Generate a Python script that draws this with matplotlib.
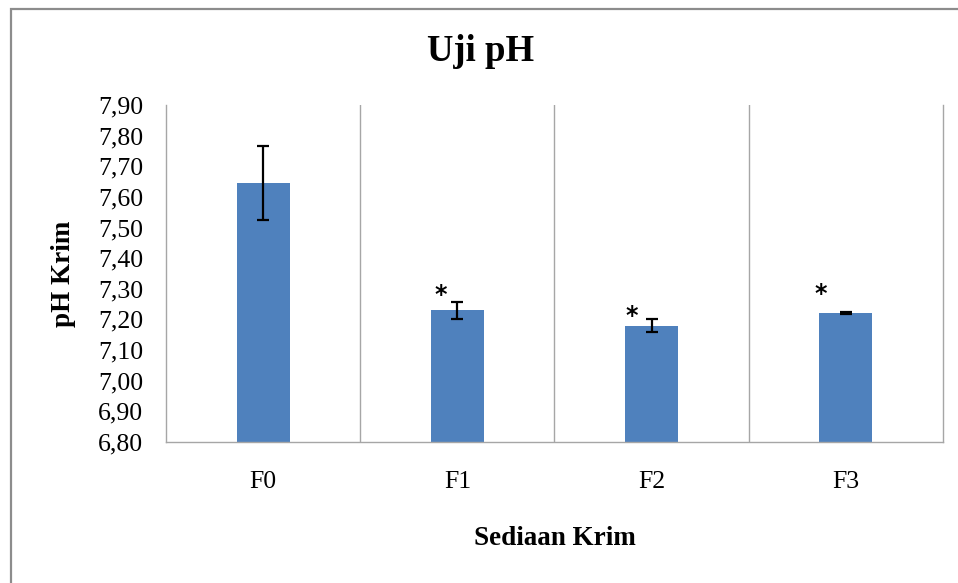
import matplotlib
matplotlib.use('Agg')
import matplotlib.pyplot as plt
from matplotlib.ticker import FuncFormatter, MultipleLocator
from matplotlib.patches import Rectangle

# mean pH per cream formula and its standard deviation
formulas = ['F0', 'F1', 'F2', 'F3']
ph_mean = [7.645, 7.23, 7.18, 7.22]
ph_sd = [0.12, 0.028, 0.02, 0.003]
# significance marks and where they sit (category offset, pH height)
marks = ['', '*', '*', '*']
mark_dx = [0, -0.088, -0.103, -0.129]
mark_y = [None, 7.288, 7.219, 7.291]

plt.rcParams['font.family'] = ['Liberation Serif', 'DejaVu Serif']

fig = plt.figure(figsize=[9.58, 5.83], dpi=100)
ax = fig.add_axes([0.1733, 0.2419, 0.811, 0.578])

x = list(range(len(formulas)))
ax.bar(x, ph_mean, width=0.273, color='#4F81BD', zorder=2)
ax.errorbar(x, ph_mean, yerr=ph_sd, fmt='none', ecolor='black',
            elinewidth=1.6, capsize=4.3, capthick=1.6, zorder=3)

for i in x:
  if marks[i]:
    ax.text(i + mark_dx[i], mark_y[i], marks[i], ha='center', va='center_baseline',
            fontsize=17, fontweight='bold', family='DejaVu Sans', zorder=4)

ax.set_xlim(-0.5, 3.5)
ax.set_ylim(6.80, 7.90)
ax.yaxis.set_major_locator(MultipleLocator(0.1))
ax.yaxis.set_major_formatter(FuncFormatter(lambda v, p: ('%.2f' % v).replace('.', ',')))
ax.set_xticks(x)
ax.set_xticklabels(formulas)
ax.tick_params(axis='y', length=0, pad=16.5, labelsize=18.5)
ax.tick_params(axis='x', length=0, pad=21, labelsize=18.5)

# category separators
for b in [0.5, 1.5, 2.5]:
  ax.axvline(b, color='#a6a6a6', linewidth=1, zorder=1)

for s in ['left', 'bottom', 'right']:
  ax.spines[s].set_color('#a6a6a6')
  ax.spines[s].set_linewidth(1)
ax.spines['top'].set_visible(False)

fig.text(0.5015, 0.911, 'Uji pH', ha='center', va='center',
         fontsize=26.5, fontweight='bold')
fig.text(0.0668, 0.530, 'pH Krim', ha='center', va='center', rotation=90,
         fontsize=19.5, fontweight='bold')
fig.text(0.579, 0.077, 'Sediaan Krim', ha='center', va='center',
         fontsize=19.5, fontweight='bold')

# chart area border
fig.patches.append(Rectangle((0.011, -0.1), 1.2, 0.1 + 1 - 0.0155,
                             transform=fig.transFigure, fill=False,
                             edgecolor='#8c8c8c', linewidth=1.6))

fig.savefig('out.png', dpi=100)
